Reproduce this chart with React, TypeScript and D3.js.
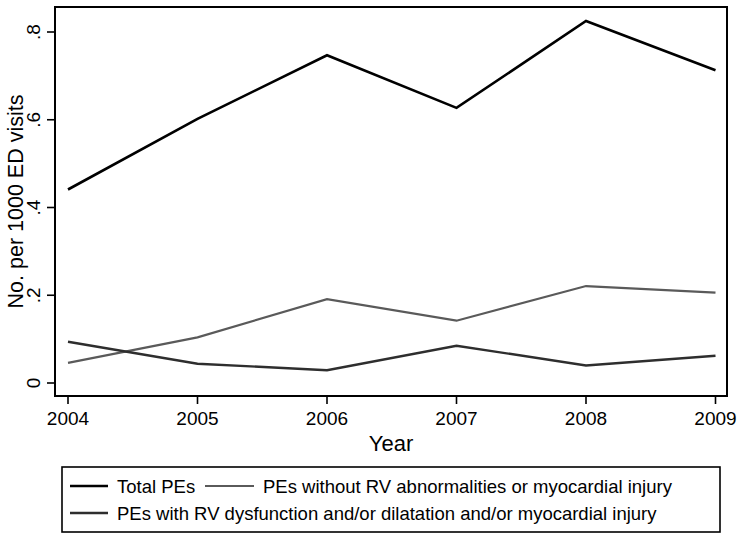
import React from "react";
import * as d3 from "d3";

const years = [2004, 2005, 2006, 2007, 2008, 2009];
const totalPEs = [0.441, 0.602, 0.747, 0.627, 0.825, 0.713];
const withoutRV = [0.046, 0.104, 0.191, 0.142, 0.221, 0.206];
const withRV = [0.094, 0.044, 0.029, 0.085, 0.040, 0.062];
const yTicks = [0, 0.2, 0.4, 0.6, 0.8];
const yTickLabels = ["0", ".2", ".4", ".6", ".8"];

const seriesList = [
  { name: "Total PEs", values: totalPEs, color: "#000000", width: 2.6 },
  { name: "PEs without RV abnormalities or myocardial injury", values: withoutRV, color: "#5a5a5a", width: 2.2 },
  { name: "PEs with RV dysfunction and/or dilatation and/or myocardial injury", values: withRV, color: "#2e2e2e", width: 2.4 },
];

const W = 741;
const H = 540;
const box = { left: 55, right: 727, top: 7, bottom: 396 };
const font = "'Liberation Sans', Arial, sans-serif";

export default function App() {
  const x = d3.scaleLinear().domain([2004, 2009]).range([68, 715.5]);
  const y = d3.scaleLinear().domain([0, 0.8]).range([383, 32]);
  const line = d3
    .line<number>()
    .x((_, i) => x(years[i]))
    .y((d) => y(d));

  const legendItems = [
    { s: seriesList[0], lx: 70, tx: 117, ly: 486 },
    { s: seriesList[1], lx: 205, tx: 263, ly: 486 },
    { s: seriesList[2], lx: 70, tx: 117, ly: 513 },
  ];

  return (
    <svg
      width={W}
      height={H}
      style={{ position: "absolute", left: 0, top: 0, background: "#fff" }}
      fontFamily={font}
    >
      <rect x={0} y={0} width={W} height={H} fill="#fff" />
      {seriesList.map((s) => (
        <path
          key={s.name}
          d={line(s.values) || ""}
          fill="none"
          stroke={s.color}
          strokeWidth={s.width}
          strokeLinejoin="miter"
        />
      ))}
      <rect
        x={box.left}
        y={box.top}
        width={box.right - box.left}
        height={box.bottom - box.top}
        fill="none"
        stroke="#000"
        strokeWidth={2}
      />
      {yTicks.map((t, i) => (
        <g key={t}>
          <line x1={47} x2={box.left} y1={y(t)} y2={y(t)} stroke="#000" strokeWidth={1.6} />
          <text
            transform={`translate(${40},${y(t)}) rotate(-90)`}
            textAnchor="middle"
            fontSize={19}
            fill="#000"
          >
            {yTickLabels[i]}
          </text>
        </g>
      ))}
      <text
        transform={`translate(${22.5},${(box.top + box.bottom) / 2}) rotate(-90)`}
        textAnchor="middle"
        fontSize={21.5}
        fill="#000"
      >
        No. per 1000 ED visits
      </text>
      {years.map((yr) => (
        <g key={yr}>
          <line x1={x(yr)} x2={x(yr)} y1={box.bottom} y2={404} stroke="#000" strokeWidth={1.6} />
          <text x={x(yr)} y={425} textAnchor="middle" fontSize={19} fill="#000">
            {yr}
          </text>
        </g>
      ))}
      <text x={(box.left + box.right) / 2} y={451} textAnchor="middle" fontSize={22} fill="#000">
        Year
      </text>
      <rect x={62} y={467} width={658} height={65} fill="none" stroke="#000" strokeWidth={1.6} />
      {legendItems.map((it) => (
        <g key={it.s.name}>
          <line
            x1={it.lx}
            x2={it.tx - 9}
            y1={it.ly}
            y2={it.ly}
            stroke={it.s.color}
            strokeWidth={it.s.width}
          />
          <text x={it.tx} y={it.ly + 6.5} fontSize={18.5} fill="#000">
            {it.s.name}
          </text>
        </g>
      ))}
    </svg>
  );
}
